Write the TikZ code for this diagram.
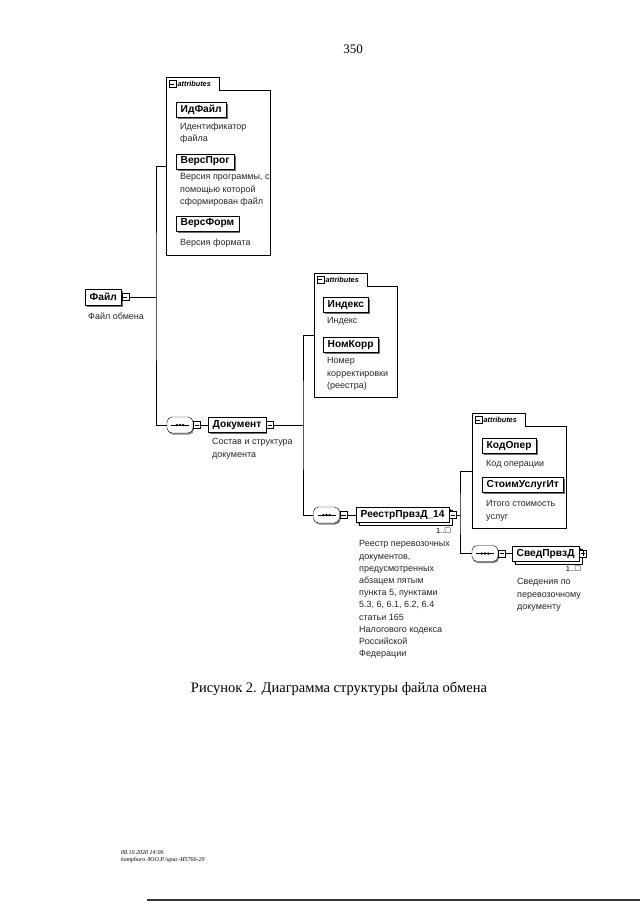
\documentclass[tikz,border=0pt]{standalone}
\usepackage{amssymb}
\usepackage{fontspec}
\setmainfont{Liberation Serif}
\newfontfamily\diagfont{Liberation Sans}
\usetikzlibrary{shadows}

\begin{document}
\begin{tikzpicture}[x=1pt,y=-1pt,
  elem/.style={draw,fill=white,anchor=west,inner xsep=4.5pt,inner ysep=0pt,minimum height=15pt,
    font=\diagfont\fontsize{10.2}{12}\bfseries,
    drop shadow={shadow xshift=1.5pt,shadow yshift=-1.5pt,opacity=0.8,fill=black!70}},
  multi/.style={elem,copy shadow={shadow xshift=3pt,shadow yshift=-3pt,draw,fill=white}},
  desc/.style={anchor=north west,inner sep=0pt,align=left,text=black!85,
    font=\diagfont\fontsize{9}{12.2}\selectfont},
  expbox/.style={draw,fill=white,minimum size=7pt,inner sep=0pt,anchor=west,
    path picture={\draw[black] ([xshift=1.3pt]path picture bounding box.west) -- ([xshift=-1.3pt]path picture bounding box.east);}},
  expplus/.style={draw,fill=white,minimum size=7pt,inner sep=0pt,anchor=west,
    path picture={\draw[black] ([xshift=1.3pt]path picture bounding box.west) -- ([xshift=-1.3pt]path picture bounding box.east);
      \draw[black] ([yshift=1.3pt]path picture bounding box.south) -- ([yshift=-1.3pt]path picture bounding box.north);}},
  seqbox/.style={draw,fill=white,rounded corners=5pt,minimum width=26pt,minimum height=16pt,inner sep=0pt,
    drop shadow={shadow xshift=1pt,shadow yshift=-1.5pt,opacity=0.7,fill=black!70},
    path picture={\draw[black,sharp corners] ([xshift=4pt]path picture bounding box.west) -- ([xshift=-4pt]path picture bounding box.east);
      \foreach \dd in {-3.2,0,3.2} \fill[black] ([xshift=\dd pt]path picture bounding box.center) circle (1.3pt);}},
  attrarea/.style={anchor=north west,inner sep=0pt},
  tabarea/.style={anchor=north west,inner sep=0pt,minimum height=13pt},
  tabtext/.style={anchor=west,inner sep=1.5pt,font=\diagfont\fontsize{7.3}{8}\bfseries\itshape},
  mult/.style={anchor=east,inner sep=0pt,font=\diagfont\fontsize{7.5}{9}\selectfont}]
  \useasboundingbox (0,0) rectangle (640,905);

  \node[font=\fontsize{13}{15}\selectfont] (pagenum) at (353,49) {350};

  \node[elem,minimum height=16pt] (fajl) at (85,297) {Файл};
  \node[expbox] (fajlexp) at (fajl.east) {};
  \node[desc] at (88,312.5) {Файл обмена};

  \node[attrarea,minimum width=104pt,minimum height=178pt] (attrA) at (166,77) {};
  \node[tabarea,minimum width=53pt] (attrAtab) at (166,77) {};
  \draw (attrAtab.north west) -- (attrAtab.north east) -- (attrAtab.south east)
    -- (attrAtab.south east -| attrA.east) -- (attrA.south east) -- (attrA.south west) -- cycle;
  \node[expbox] (attrAicon) at (168.5,84) {};
  \node[tabtext] at (attrAicon.east) {attributes};

  \node[elem] (idfajl) at (176,109.5) {ИдФайл};
  \node[desc] at (180,122.5) {Идентификатор\\файла};
  \node[elem] (versprog) at (176,161.5) {ВерсПрог};
  \node[desc] at (180,173.5) {Версия программы, с\\помощью которой\\сформирован файл};
  \node[elem] (versform) at (176,223.5) {ВерсФорм};
  \node[desc] at (180,238.5) {Версия формата};

  \node[seqbox] (seqA) at (180,425) {};
  \node[expbox] (seqAexp) at (seqA.east) {};
  \node[elem] (dok) at (208,425) {Документ};
  \node[expbox] (dokexp) at (dok.east) {};
  \node[desc] at (212,438.5) {Состав и структура\\документа};

  \coordinate (busA) at (156,297);
  \draw (fajlexp.east) -- (busA);
  \draw (attrA.west) -| (busA) |- (seqA.west);
  \draw (seqAexp.east) -- (dok.west);

  \node[attrarea,minimum width=83pt,minimum height=124pt] (attrB) at (314,273) {};
  \node[tabarea,minimum width=53pt] (attrBtab) at (314,273) {};
  \draw (attrBtab.north west) -- (attrBtab.north east) -- (attrBtab.south east)
    -- (attrBtab.south east -| attrB.east) -- (attrB.south east) -- (attrB.south west) -- cycle;
  \node[expbox] (attrBicon) at (316.5,279.5) {};
  \node[tabtext] at (attrBicon.east) {attributes};

  \node[elem] (indeks) at (323,305) {Индекс};
  \node[desc] at (327,317.5) {Индекс};
  \node[elem] (nomkorr) at (323,345) {НомКорр};
  \node[desc] at (327,357.5) {Номер\\корректировки\\(реестра)};

  \node[seqbox] (seqB) at (326.5,515) {};
  \node[expbox] (seqBexp) at (seqB.east) {};
  \node[multi] (reestr) at (356,515) {РеестрПрвзД\_14};
  \node[expbox] (reestrexp) at (reestr.east) {};
  \node[mult] at ([xshift=2pt,yshift=-8pt]reestr.south east) {1..$\Box$};
  \node[desc] at (359,540.5) {Реестр перевозочных\\документов,\\предусмотренных\\абзацем пятым\\пункта 5, пунктами\\5.3, 6, 6.1, 6.2, 6.4\\статьи 165\\Налогового кодекса\\Российской\\Федерации};

  \coordinate (busB) at (303,425);
  \draw (dokexp.east) -- (busB);
  \draw (attrB.west) -| (busB) |- (seqB.west);
  \draw (seqBexp.east) -- (reestr.west);

  \node[attrarea,minimum width=94pt,minimum height=115pt] (attrC) at (472,413) {};
  \node[tabarea,minimum width=53pt] (attrCtab) at (472,413) {};
  \draw (attrCtab.north west) -- (attrCtab.north east) -- (attrCtab.south east)
    -- (attrCtab.south east -| attrC.east) -- (attrC.south east) -- (attrC.south west) -- cycle;
  \node[expbox] (attrCicon) at (474.5,420) {};
  \node[tabtext] at (attrCicon.east) {attributes};

  \node[elem] (kodoper) at (482,445.5) {КодОпер};
  \node[desc] at (486,460.5) {Код операции};
  \node[elem] (stoim) at (482,484.5) {СтоимУслугИт};
  \node[desc] at (486,500.5) {Итого стоимость\\услуг};

  \node[seqbox] (seqC) at (485,553.5) {};
  \node[expbox] (seqCexp) at (seqC.east) {};
  \node[multi] (sved) at (512,553.5) {СведПрвзД};
  \node[expplus] (svedexp) at (sved.east) {};
  \node[mult] at ([xshift=2pt,yshift=-8pt]sved.south east) {1..$\Box$};
  \node[desc] at (517,578.5) {Сведения по\\перевозочному\\документу};

  \coordinate (busC) at (460,515);
  \draw (reestrexp.east) -- (busC);
  \draw (attrC.west) -| (busC) |- (seqC.west);
  \draw (seqCexp.east) -- (sved.west);

  \node[font=\fontsize{14.5}{17}\selectfont] (caption) at (339,689) {Рисунок 2. Диаграмма структуры файла обмена};

  \node[anchor=west,inner sep=0pt,font=\fontsize{6}{7}\itshape] (stampdate) at (121,853) {08.10.2020 14:06};
  \node[anchor=west,inner sep=0pt,font=\fontsize{6}{7}\itshape] (stampuser) at (121,860) {kompburo /ЮО.Р./ирис-И5766-29};
  \draw[line width=1.5pt,black!80] (147,900) -- (640,900);
\end{tikzpicture}
\end{document}
